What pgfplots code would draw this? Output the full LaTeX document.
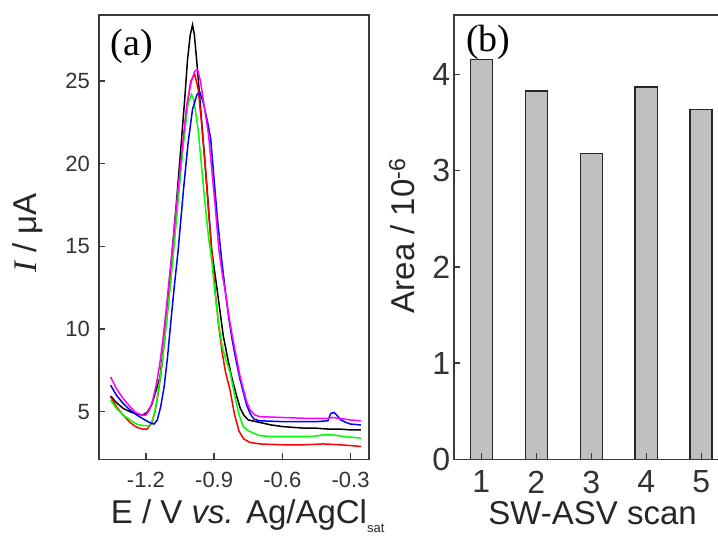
\documentclass[border=0pt]{standalone}
\usepackage{fontspec}
\setmainfont{Liberation Sans}
\newfontfamily\tnr{Liberation Serif}
\usepackage{pgfplots}
\pgfplotsset{compat=1.18}

\definecolor{axgray}{HTML}{3A3A3A}
\definecolor{barfill}{HTML}{C0C0C0}
\definecolor{scgreen}{HTML}{00FF00}
\definecolor{scmag}{HTML}{FF00FF}

\pgfplotsset{
  panel/.style={
    scale only axis,
    anchor=south west,
    height=444.3pt,
    tick align=inside,
    tick pos=left,
    major tick length=6pt,
    axis line style={axgray, line width=1.6pt},
    every tick/.style={axgray, line width=1.3pt},
    /pgf/number format/assume math mode=true,
    label style={font=\fontsize{33}{36}\selectfont, text=black!85},
  },
}

\begin{document}
\begin{tikzpicture}
\useasboundingbox (0,0) rectangle (718pt,536pt);

%-- (a) SW-ASV voltammograms
\begin{axis}[panel,
    at={(99.3pt,76.7pt)}, width=269.7pt,
    xmin=-1.405, xmax=-0.219, ymin=2.12, ymax=29.0,
    xtick={-1.2,-0.9,-0.6,-0.3}, xticklabels={-1.2,-0.9,-0.6,-0.3},
    ytick={5,10,15,20,25},
    tick label style={font=\fontsize{22}{24}\selectfont, text=black!80},
    xticklabel style={yshift=-9pt},
    yticklabel style={xshift=-6pt},
    xlabel={E / V \textit{vs.} Ag/AgCl\raisebox{-9pt}{\fontsize{13}{13}\selectfont sat}},
    xlabel style={at={(axis description cs:0.03,-0.1456)}, anchor=base west},
    ylabel={{\tnr\itshape I} / μA},
    ylabel style={at={(axis description cs:-0.267,0.509)}, anchor=center},
    every axis plot/.append style={line width=1.5pt},
  ]
  % scan 1
  \addplot[black] coordinates {
    (-1.355,5.95)(-1.33,5.55)(-1.30,5.2)(-1.27,5.0)(-1.24,4.85)(-1.215,4.8)
    (-1.195,4.95)(-1.175,5.4)(-1.155,6.3)(-1.138,7.1)(-1.12,9.2)(-1.10,12.0)
    (-1.085,14.6)(-1.065,17.8)(-1.045,21.2)(-1.03,23.8)(-1.017,26.3)(-1.005,27.8)
    (-0.995,28.4)(-0.987,27.8)(-0.977,26.3)(-0.962,23.8)(-0.948,21.4)(-0.93,18.3)
    (-0.911,14.8)(-0.885,12.2)(-0.86,9.6)(-0.84,8.2)(-0.823,7.1)(-0.80,5.9)
    (-0.785,5.2)(-0.77,4.8)(-0.75,4.5)(-0.70,4.35)(-0.65,4.2)(-0.60,4.1)
    (-0.55,4.05)(-0.50,4.0)(-0.45,4.0)(-0.40,3.95)(-0.35,3.95)(-0.30,3.9)(-0.255,3.9)
  };
  % scan 2
  \addplot[red] coordinates {
    (-1.355,5.9)(-1.33,5.3)(-1.30,4.8)(-1.27,4.35)(-1.24,4.05)(-1.215,3.95)
    (-1.195,3.95)(-1.175,4.3)(-1.16,5.0)(-1.145,6.2)(-1.13,7.8)(-1.115,9.8)
    (-1.10,11.8)(-1.08,14.6)(-1.06,17.8)(-1.04,20.8)(-1.02,23.4)(-1.003,25.0)
    (-0.985,25.4)(-0.97,24.5)(-0.955,22.4)(-0.94,20.0)(-0.925,17.2)(-0.911,14.8)
    (-0.895,12.2)(-0.88,10.2)(-0.865,8.6)(-0.85,7.4)(-0.83,6.3)(-0.81,4.8)
    (-0.79,3.8)(-0.77,3.35)(-0.745,3.15)(-0.70,3.05)(-0.60,3.0)(-0.50,3.0)
    (-0.42,3.05)(-0.35,3.0)(-0.30,2.95)(-0.255,2.9)
  };
  % scan 3
  \addplot[scgreen] coordinates {
    (-1.355,5.7)(-1.33,5.2)(-1.30,4.8)(-1.27,4.5)(-1.24,4.25)(-1.21,4.15)
    (-1.185,4.15)(-1.17,4.5)(-1.155,5.4)(-1.14,6.8)(-1.125,8.4)(-1.11,10.3)
    (-1.095,12.3)(-1.075,15.2)(-1.055,18.3)(-1.035,21.2)(-1.015,23.6)(-1.0,24.2)
    (-0.99,23.9)(-0.98,23.0)(-0.97,22.0)(-0.955,19.8)(-0.94,17.6)(-0.925,15.6)
    (-0.911,14.2)(-0.895,12.0)(-0.88,10.3)(-0.865,9.0)(-0.85,8.2)(-0.83,7.4)
    (-0.81,6.0)(-0.79,4.8)(-0.772,4.1)(-0.75,3.85)(-0.726,3.7)(-0.70,3.55)
    (-0.65,3.5)(-0.55,3.5)(-0.47,3.5)(-0.42,3.6)(-0.38,3.6)(-0.33,3.5)
    (-0.29,3.45)(-0.255,3.4)
  };
  % scan 4
  \addplot[blue] coordinates {
    (-1.355,6.6)(-1.33,6.0)(-1.30,5.5)(-1.27,5.1)(-1.24,4.8)(-1.21,4.55)
    (-1.185,4.35)(-1.165,4.25)(-1.15,4.5)(-1.135,5.3)(-1.12,6.5)(-1.105,8.3)
    (-1.09,10.5)(-1.075,12.6)(-1.058,14.8)(-1.035,18.4)(-1.015,21.2)(-0.995,23.3)
    (-0.975,24.2)(-0.962,24.3)(-0.948,23.7)(-0.93,22.6)(-0.915,21.5)(-0.90,19.0)
    (-0.885,16.6)(-0.867,14.2)(-0.85,12.2)(-0.835,10.6)(-0.82,9.3)(-0.805,8.2)
    (-0.787,7.0)(-0.772,6.2)(-0.757,5.4)(-0.742,4.9)(-0.725,4.55)(-0.70,4.45)
    (-0.60,4.4)(-0.50,4.4)(-0.45,4.4)(-0.40,4.45)(-0.387,4.9)(-0.372,4.95)
    (-0.358,4.75)(-0.343,4.5)(-0.32,4.35)(-0.30,4.25)(-0.255,4.2)
  };
  % scan 5
  \addplot[scmag] coordinates {
    (-1.355,7.1)(-1.33,6.4)(-1.30,5.8)(-1.27,5.3)(-1.245,4.95)(-1.22,4.8)
    (-1.20,4.8)(-1.185,5.1)(-1.17,5.7)(-1.155,6.6)(-1.14,7.8)(-1.125,9.4)
    (-1.11,11.3)(-1.095,13.4)(-1.08,15.4)(-1.06,18.3)(-1.04,21.0)(-1.02,23.6)
    (-1.0,25.0)(-0.985,25.6)(-0.973,25.7)(-0.96,25.0)(-0.945,23.6)(-0.925,21.8)
    (-0.91,19.6)(-0.895,17.4)(-0.88,14.9)(-0.865,13.4)(-0.848,12.0)(-0.833,10.6)
    (-0.819,9.5)(-0.805,8.5)(-0.787,7.2)(-0.772,6.4)(-0.757,5.6)(-0.742,5.1)
    (-0.72,4.8)(-0.70,4.7)(-0.60,4.65)(-0.50,4.6)(-0.40,4.6)(-0.38,4.65)
    (-0.35,4.6)(-0.30,4.5)(-0.255,4.45)
  };
  \node[anchor=west, font=\tnr\fontsize{38}{40}\selectfont] at (rel axis cs:0.03,0.93) {(a)};
\end{axis}

%-- (b) peak areas
\begin{axis}[panel,
    at={(453.7pt,76.7pt)}, width=275pt,
    axis on top,
    xmin=0.5, xmax=5.5, ymin=0, ymax=4.62,
    xtick={1,2,3,4,5}, ytick={0,1,2,3,4},
    tick label style={font=\fontsize{32}{34}\selectfont, text=black!80},
    xticklabel style={yshift=-8pt},
    xlabel={SW-ASV scan},
    xlabel style={at={(axis description cs:0.505,-0.1477)}, anchor=base},
    ylabel={Area / 10\textsuperscript{-6}},
    ylabel style={at={(axis description cs:-0.189,0.503)}, anchor=center},
  ]
  \addplot[ybar, bar width=22pt, fill=barfill, draw=black!85, line width=1.4pt]
    coordinates {(1,4.16)(2,3.83)(3,3.18)(4,3.87)(5,3.64)};
  \node[anchor=west, font=\tnr\fontsize{38}{40}\selectfont] at (rel axis cs:0.033,0.939) {(b)};
\end{axis}
\end{tikzpicture}
\end{document}
